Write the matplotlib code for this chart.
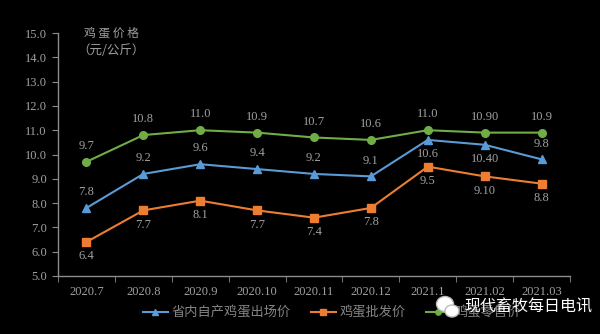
import matplotlib
matplotlib.use('Agg')
import matplotlib.pyplot as plt
from matplotlib.patches import Ellipse

# Chart data
months = ['2020.7', '2020.8', '2020.9', '2020.10', '2020.11', '2020.12',
          '2021.1', '2021.02', '2021.03']
farm_price = [7.8, 9.2, 9.6, 9.4, 9.2, 9.1, 10.6, 10.40, 9.8]
wholesale_price = [6.4, 7.7, 8.1, 7.7, 7.4, 7.8, 9.5, 9.10, 8.8]
retail_price = [9.7, 10.8, 11.0, 10.9, 10.7, 10.6, 11.0, 10.90, 10.9]
farm_labels = ['7.8', '9.2', '9.6', '9.4', '9.2', '9.1', '10.6', '10.40', '9.8']
wholesale_labels = ['6.4', '7.7', '8.1', '7.7', '7.4', '7.8', '9.5', '9.10', '8.8']
retail_labels = ['9.7', '10.8', '11.0', '10.9', '10.7', '10.6', '11.0', '10.90', '10.9']
series_names = ['省内自产鸡蛋出场价', '鸡蛋批发价', '鸡蛋零售价']
y_ticks = [5.0, 6.0, 7.0, 8.0, 9.0, 10.0, 11.0, 12.0, 13.0, 14.0, 15.0]

# label above (+1) or below (-1) each point of the blue series
farm_side = [1, 1, 1, 1, 1, 1, -1, -1, 1]

BG = 'black'
TXT = '#a0a0a0'
LEGTXT = '#858585'
AXC = '#8c8c8c'
BLUE = '#5b9bd5'
ORANGE = '#ed7d31'
GREEN = '#70ad47'
NUMFONT = ['Liberation Serif', 'DejaVu Serif']
CJK = ['Noto Sans CJK SC']

plt.rcParams['font.family'] = NUMFONT

fig = plt.figure(figsize=(6.0, 3.34), dpi=100, facecolor=BG)
ax = fig.add_axes([58 / 600, 1 - 276 / 334, 512 / 600, 243 / 334], facecolor=BG)

x = list(range(len(months)))
ax.plot(x, farm_price, color=BLUE, marker='^', markersize=5.5, linewidth=1.5,
        label=series_names[0])
ax.plot(x, wholesale_price, color=ORANGE, marker='s', markersize=5.5, linewidth=1.5,
        label=series_names[1])
ax.plot(x, retail_price, color=GREEN, marker='o', markersize=5.5, linewidth=1.5,
        label=series_names[2])

for i in x:
    ax.annotate(retail_labels[i], (i, retail_price[i]), xytext=(0, 7),
                textcoords='offset points', ha='center', va='bottom',
                color=TXT, fontsize=9)
    if farm_side[i] > 0:
        ax.annotate(farm_labels[i], (i, farm_price[i]), xytext=(0, 7),
                    textcoords='offset points', ha='center', va='bottom',
                    color=TXT, fontsize=9)
    else:
        ax.annotate(farm_labels[i], (i, farm_price[i]), xytext=(0, -6),
                    textcoords='offset points', ha='center', va='top',
                    color=TXT, fontsize=9)
    ax.annotate(wholesale_labels[i], (i, wholesale_price[i]), xytext=(0, -6),
                textcoords='offset points', ha='center', va='top',
                color=TXT, fontsize=9)

ax.set_xlim(-0.5, len(months) - 0.5)
ax.set_ylim(5.0, 15.0)
ax.set_yticks(y_ticks)
ax.set_yticklabels(['%.1f' % v for v in y_ticks])
ax.set_xticks(x)
ax.set_xticklabels(months)
ax.set_xticks([i - 0.5 for i in range(len(months) + 1)], minor=True)

for side in ['top', 'right']:
    ax.spines[side].set_visible(False)
for side in ['left', 'bottom']:
    ax.spines[side].set_color(AXC)
    ax.spines[side].set_linewidth(1.0)

ax.tick_params(axis='y', colors=AXC, labelcolor=TXT, labelsize=9, length=4, pad=4)
ax.tick_params(axis='x', which='major', length=0, labelcolor=TXT, labelsize=9, pad=7)
ax.tick_params(axis='x', which='minor', colors=AXC, length=4, direction='out')

fig.text(111 / 600, 1 - 33 / 334, '鸡 蛋 价 格', color=TXT, fontsize=8.5,
         ha='center', va='center', family=CJK)
fig.text(111 / 600, 1 - 51 / 334, '（元/公斤）', color=TXT, fontsize=9,
         ha='center', va='center', family=CJK)

leg = fig.legend(loc='center', bbox_to_anchor=(332 / 600, 1 - 313 / 334), ncol=3,
                 frameon=False, handlelength=1.9, columnspacing=1.5,
                 handletextpad=0.3, markerscale=0.7,
                 prop={'family': CJK, 'size': 9.5})
for t in leg.get_texts():
    t.set_color(LEGTXT)

# watermark
fig.patches.append(Ellipse((445 / 600, 1 - 304 / 334), 17 / 600, 15 / 334,
                           transform=fig.transFigure, facecolor='white', edgecolor='#bbbbbb',
                           zorder=10))
fig.patches.append(Ellipse((452 / 600, 1 - 311 / 334), 14 / 600, 12 / 334,
                           transform=fig.transFigure, facecolor='white', edgecolor='#bbbbbb',
                           zorder=10))
fig.text(464 / 600, 1 - 307 / 334, '现代畜牧每日电讯', color='white', fontsize=11.5,
         ha='left', va='center', family=CJK, zorder=10)

fig.savefig('out.png', dpi=100, facecolor=BG)
